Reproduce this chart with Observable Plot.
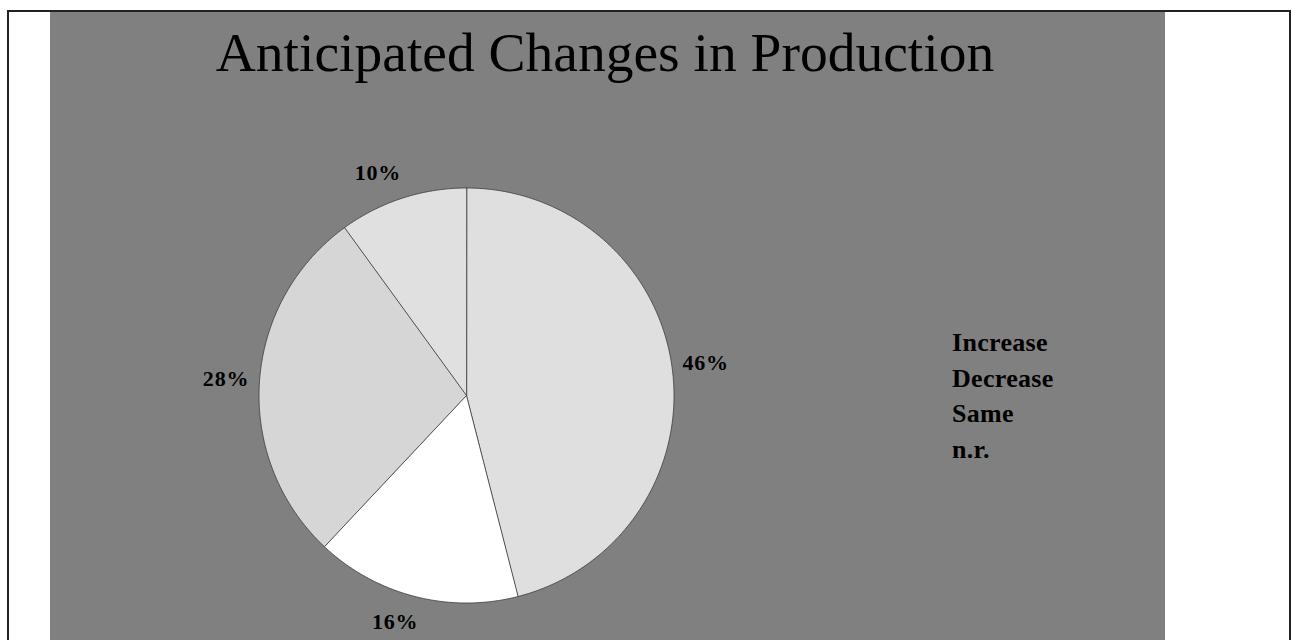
<!DOCTYPE html>
<html>
<head>
<meta charset="utf-8">
<script src="https://cdn.jsdelivr.net/npm/d3@7"></script>
<script src="https://cdn.jsdelivr.net/npm/@observablehq/plot@0.6"></script>
<style>
  html, body { margin: 0; padding: 0; background: #ffffff; }
  #page { position: relative; width: 1292px; height: 640px; overflow: hidden; background: #ffffff; }
  #frame { position: absolute; left: 7px; top: 10px; width: 1280px; height: 640px;
           border-top: 2px solid #222; border-left: 2px solid #222; border-right: 2px solid #222; }
  #panel { position: absolute; left: 50px; top: 12px; width: 1115px; height: 628px; background: #808080; }
  #title { position: absolute; left: 50px; top: 25px; width: 1110px; text-align: center;
           font-family: "Liberation Serif", "Times New Roman", serif; font-size: 55.5px; line-height: 1; color: #000; }
  #chart { position: absolute; left: 50px; top: 12px; }
  #chart text { letter-spacing: 0.8px; }
  #legend { position: absolute; left: 952px; top: 325px;
            font-family: "Liberation Serif", "Times New Roman", serif; font-weight: bold;
            font-size: 26px; line-height: 35.5px; letter-spacing: 0.3px; color: #000; }
</style>
</head>
<body>
<div id="page">
  <div id="frame"></div>
  <div id="panel"></div>
  <div id="chart"></div>
  <div id="title">Anticipated Changes in Production</div>
  <div id="legend"></div>
</div>
<script>
// ---- data ----
const categories = ["Increase", "Decrease", "Same", "n.r."];
const shares = [46, 16, 28, 10];
const sliceColors = ["#dfdfdf", "#ffffff", "#d6d6d6", "#e0e0e0"];
const chartTitle = "Anticipated Changes in Production";

// ---- layout ----
const W = 1115, H = 628;          // plot area (the grey panel)
const CX = 416, CY = 383;         // pie centre within the panel, px
const R = 207.5;                  // pie radius, px

document.getElementById("title").textContent = chartTitle;
document.getElementById("legend").innerHTML = categories.map(c => `<div>${c}</div>`).join("");

const total = d3.sum(shares);
let acc = 0;
const slices = shares.map((v, i) => {
  const a0 = acc / total * 2 * Math.PI;
  acc += v;
  const a1 = acc / total * 2 * Math.PI;
  return {category: categories[i], value: v, a0, a1, color: sliceColors[i]};
});

function polygon(s) {
  const pts = [{x: 0, y: 0}];
  const n = Math.max(2, Math.ceil((s.a1 - s.a0) / (Math.PI / 360)));
  for (let k = 0; k <= n; k++) {
    const a = s.a0 + (s.a1 - s.a0) * k / n;
    pts.push({x: Math.sin(a), y: Math.cos(a)});
  }
  return pts;
}

const clamp = v => Math.max(-1, Math.min(1, v));
const labW = 46, labH = 30;
const labels = slices.map(s => {
  const m = (s.a0 + s.a1) / 2;
  const sx = Math.sin(m), cy = Math.cos(m);
  return {
    text: `${s.value}%`,
    x: 1.05 * sx + (labW / 2) * clamp(3 * sx) / R,
    y: 1.05 * cy + (labH / 2) * clamp(3 * cy) / R
  };
});

const plot = Plot.plot({
  width: W,
  height: H,
  margin: 0,
  style: {background: "transparent", overflow: "visible"},
  x: {domain: [-CX / R, (W - CX) / R], axis: null},
  y: {domain: [-(H - CY) / R, CY / R], axis: null},
  marks: [
    ...slices.map(s => Plot.line(polygon(s), {
      x: "x", y: "y", curve: "linear-closed",
      fill: s.color, stroke: "#3a3a3a", strokeWidth: 0.8, strokeLinejoin: "round"
    })),
    Plot.text(labels, {
      x: "x", y: "y", text: "text",
      fontFamily: "Liberation Serif, Times New Roman, serif",
      fontWeight: "bold", fontSize: 22, fill: "#000"
    })
  ]
});
document.getElementById("chart").appendChild(plot);
</script>
</body>
</html>
